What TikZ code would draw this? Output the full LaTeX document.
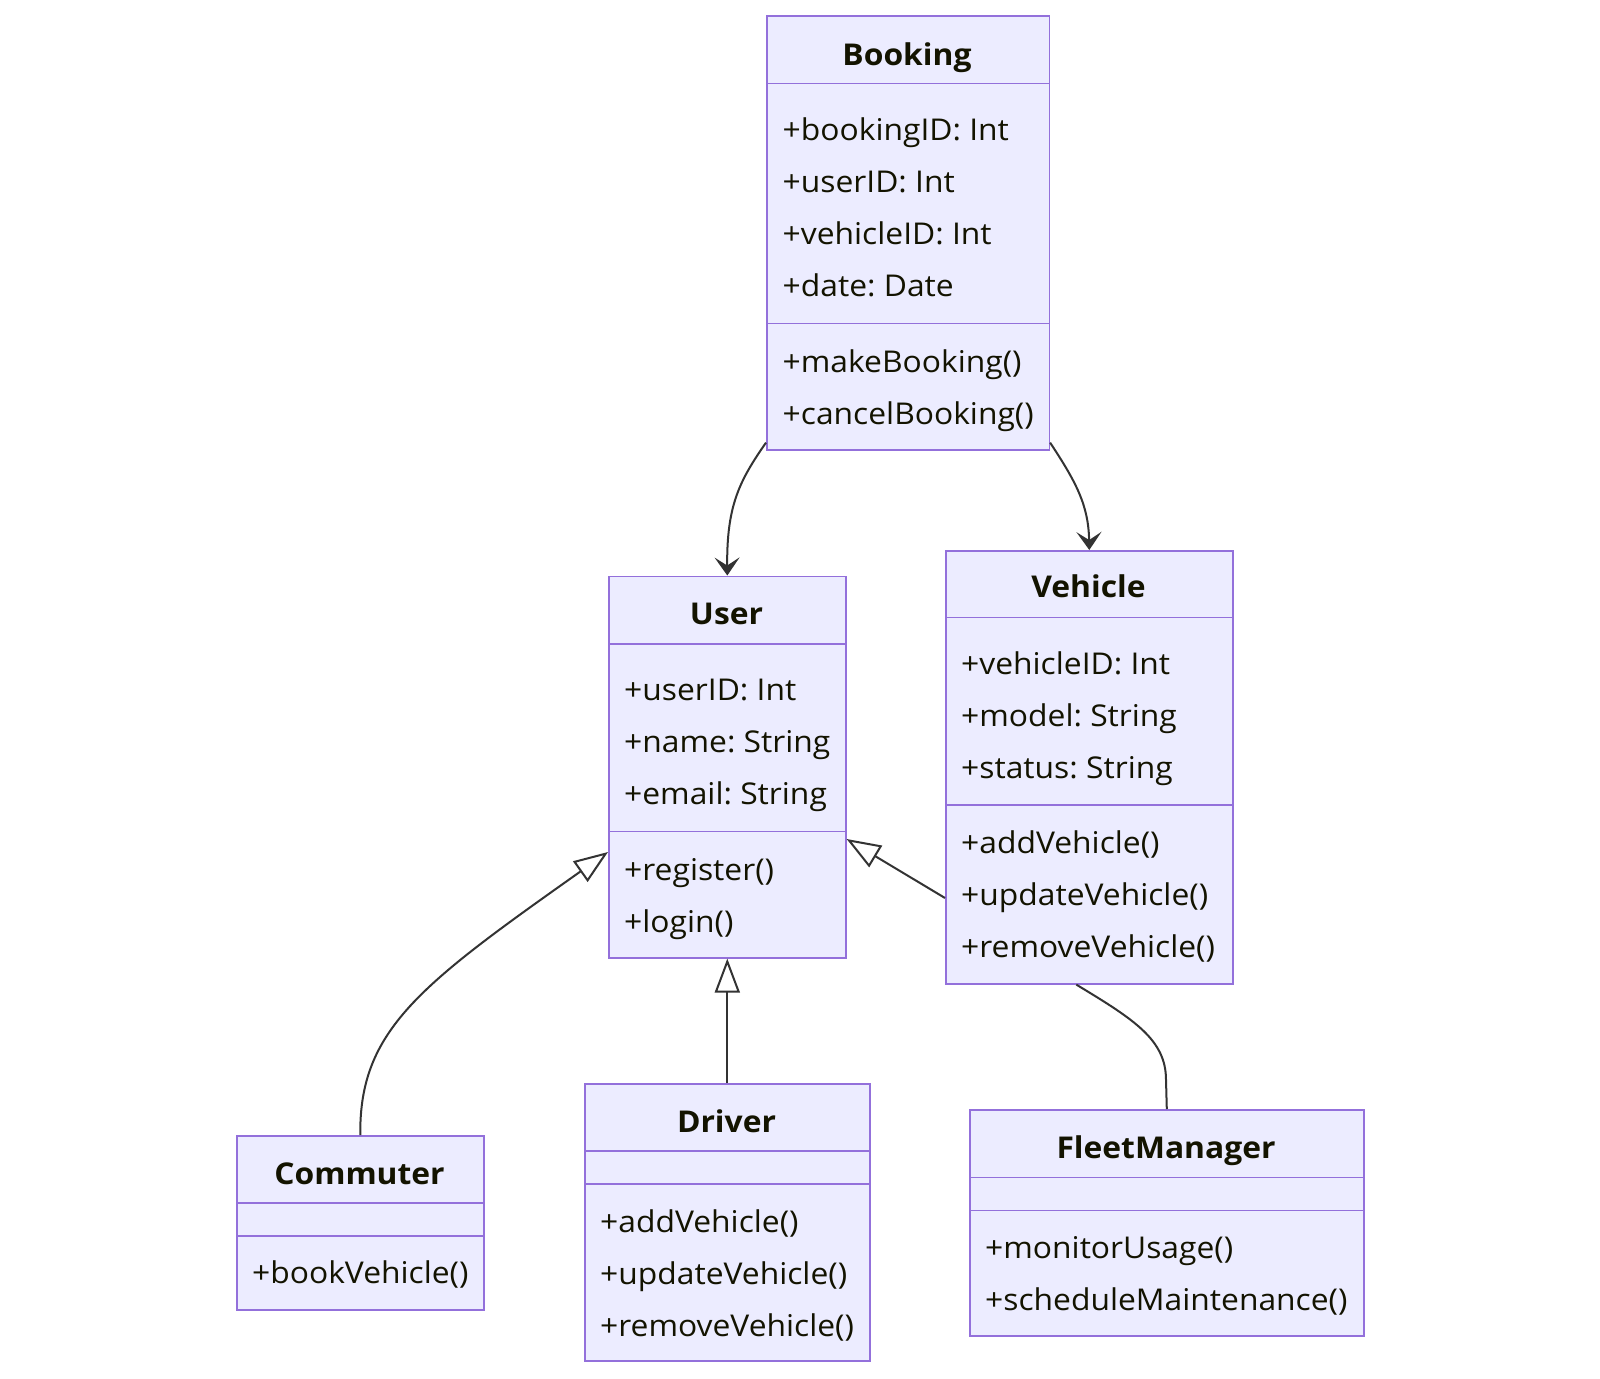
\documentclass[tikz,border=0pt]{standalone}
\usepackage{fontspec}
\setmainfont{Open Sans}[FakeStretch=1.06]
\usetikzlibrary{arrows.meta}
\definecolor{boxfill}{HTML}{ECECFF}
\definecolor{boxline}{HTML}{9370DB}
\definecolor{edgecol}{HTML}{333333}
\definecolor{txtcol}{HTML}{131300}
\begin{document}
\frenchspacing
\begin{tikzpicture}[x=1pt,y=-1pt,
  classbox/.style={draw=boxline, fill=boxfill, line width=1.6pt, anchor=north west, inner sep=0pt, rectangle},
  divider/.style={draw=boxline, line width=1.6pt},
  member/.style={anchor=west, inner sep=0pt, text height=22pt, text depth=0pt, text=txtcol, font=\fontsize{30}{36}\selectfont},
  title/.style={anchor=center, inner sep=0pt, text height=22pt, text depth=0pt, text=txtcol, font=\fontsize{30}{36}\selectfont\bfseries},
  edge/.style={draw=edgecol, line width=2pt},
  assoc/.style={edge, -{Stealth[length=18pt,width=25pt,inset=8pt]}},
  inherit/.style={edge, -{Triangle[open,length=34pt,width=25pt,fill=white]}},
]
\useasboundingbox[fill=white] (0,0) rectangle (1600,1378);

% Booking
\node[classbox, minimum width=282.5pt, minimum height=433.5pt] (booking) at (766,15.5) {};
\draw[divider] (booking.west |- 0,83.7) -- (booking.east |- 0,83.7);
\draw[divider] (booking.west |- 0,323.5) -- (booking.east |- 0,323.5);
\node[title] (bookingT) at (907,54.1) {Booking};
\node[member] (b1) at (782.5,129.6) {+bookingID: Int};
\node[member] (b2) at (782.5,181.6) {+userID: Int};
\node[member] (b3) at (782.5,233.7) {+vehicleID: Int};
\node[member] (b4) at (782.5,285.7) {+date: Date};
\node[member] (b5) at (782.5,361.2) {+makeBooking()};
\node[member] (b6) at (782.5,413.3) {+cancelBooking()};

% User
\node[classbox, minimum width=237pt, minimum height=381.5pt] (user) at (608,575.5) {};
\draw[divider] (user.west |- 0,643.8) -- (user.east |- 0,643.8);
\draw[divider] (user.west |- 0,831.6) -- (user.east |- 0,831.6);
\node[title] (userT) at (726.5,613.3) {User};
\node[member] (u1) at (624,689.8) {+userID: Int};
\node[member] (u2) at (624,741.9) {+name: String};
\node[member] (u3) at (624,793.9) {+email: String};
\node[member] (u4) at (624,869.4) {+register()};
\node[member] (u5) at (624,921.4) {+login()};

% Vehicle
\node[classbox, minimum width=287pt, minimum height=433pt] (vehicle) at (945,550) {};
\draw[divider] (vehicle.west |- 0,617.3) -- (vehicle.east |- 0,617.3);
\draw[divider] (vehicle.west |- 0,805.1) -- (vehicle.east |- 0,805.1);
\node[title] (vehicleT) at (1088.5,586.7) {Vehicle};
\node[member] (v1) at (961,663.3) {+vehicleID: Int};
\node[member] (v2) at (961,715.3) {+model: String};
\node[member] (v3) at (961,767.3) {+status: String};
\node[member] (v4) at (961,842.9) {+addVehicle()};
\node[member] (v5) at (961,894.9) {+updateVehicle()};
\node[member] (v6) at (961,946.9) {+removeVehicle()};

% Commuter
\node[classbox, minimum width=247pt, minimum height=174pt] (commuter) at (236,1135) {};
\draw[divider] (commuter.west |- 0,1203.1) -- (commuter.east |- 0,1203.1);
\draw[divider] (commuter.west |- 0,1235.8) -- (commuter.east |- 0,1235.8);
\node[title] (commuterT) at (359.5,1173.5) {Commuter};
\node[member] (c1) at (252,1272.5) {+bookVehicle()};

% Driver
\node[classbox, minimum width=285pt, minimum height=277pt] (driver) at (584,1083) {};
\draw[divider] (driver.west |- 0,1151) -- (driver.east |- 0,1151);
\draw[divider] (driver.west |- 0,1183.7) -- (driver.east |- 0,1183.7);
\node[title] (driverT) at (726.5,1121.4) {Driver};
\node[member] (d1) at (600,1221.4) {+addVehicle()};
\node[member] (d2) at (600,1273.5) {+updateVehicle()};
\node[member] (d3) at (600,1325.5) {+removeVehicle()};

% FleetManager
\node[classbox, minimum width=394pt, minimum height=226pt] (fleet) at (969,1109) {};
\draw[divider] (fleet.west |- 0,1177.6) -- (fleet.east |- 0,1177.6);
\draw[divider] (fleet.west |- 0,1210.3) -- (fleet.east |- 0,1210.3);
\node[title] (fleetT) at (1166,1147) {FleetManager};
\node[member] (f1) at (985,1247) {+monitorUsage()};
\node[member] (f2) at (985,1299) {+scheduleMaintenance()};

% connector points
\coordinate (bookL) at ([yshift=8pt]booking.south west);
\coordinate (bookR) at ([yshift=8pt]booking.south east);

% Edges
\draw[assoc] (bookL) .. controls (740,480) and (726.5,505) .. (user.north);
\draw[assoc] (bookR) .. controls (1076,482) and (1088.5,505) .. (vehicle.north);
\draw[inherit] (commuter.north) .. controls (359,1030) and (420,985) .. (user.west |- 0,852);
\draw[inherit] (driver.north) -- (user.south);
\draw[inherit] (vehicle.west |- 0,898) -- (user.east |- 0,839);
\draw[edge] ([xshift=-13pt]vehicle.south) .. controls (1135,1020) and (1166,1040) .. (1166,1080) -- (fleet.north);
\end{tikzpicture}
\end{document}
